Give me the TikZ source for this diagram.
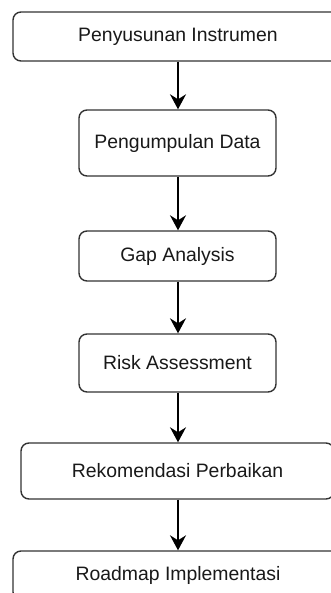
\documentclass[tikz,border=0pt]{standalone}
\usepackage{fontspec}
\setmainfont{Liberation Sans}
\usetikzlibrary{arrows.meta}

\tikzset{
  stepbox/.style={draw=black!80, line width=0.7pt, rounded corners=4pt, fill=white,
    font=\fontsize{9.7}{11}\selectfont, text=black!90, inner sep=0pt},
  flowarrow/.style={line width=0.7pt, -{Stealth[length=7.5pt,width=8pt,inset=2.5pt]}}
}

\begin{document}
\begin{tikzpicture}[x=0.5pt,y=-0.5pt]

  \useasboundingbox (0,0) rectangle (331,593);
  \clip (0,0) rectangle (331,593);

  % draw boxes
  \node[stepbox, minimum width=165pt, minimum height=24.5pt] (instr) at (178,36.5) {Penyusunan Instrumen};
  \node[stepbox, minimum width=98.5pt, minimum height=33pt] (data) at (177.5,143) {Pengumpulan Data};
  \node[stepbox, minimum width=98.5pt, minimum height=25pt] (gap) at (177.5,256) {Gap Analysis};
  \node[stepbox, minimum width=98.5pt, minimum height=29pt] (risk) at (177.5,363) {Risk Assessment};
  \node[stepbox, minimum width=156.5pt, minimum height=28pt] (rekom) at (177.5,471) {Rekomendasi Perbaikan};
  \node[stepbox, minimum width=165pt, minimum height=24.5pt] (road) at (178,575.5) {Roadmap Implementasi};

  % draw arrows
  \foreach \a/\b in {instr/data, data/gap, gap/risk, risk/rekom, rekom/road}
    \draw[flowarrow] (\a.south -| 178,0) -- (\b.north -| 178,0);

\end{tikzpicture}
\end{document}
